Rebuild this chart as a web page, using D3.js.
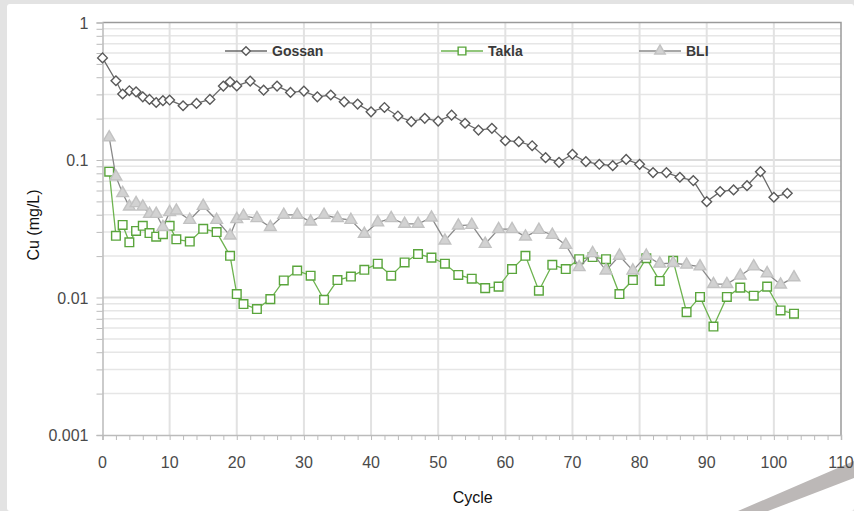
<!DOCTYPE html>
<html>
<head>
<meta charset="utf-8">
<script src="https://cdn.jsdelivr.net/npm/d3@7"></script>
<style>
  html, body { margin: 0; padding: 0; background: #e2e2e2; }
  svg { display: block; font-family: "Liberation Sans", Arial, sans-serif; }
</style>
</head>
<body>
<div id="canvas"></div>
<script>
"use strict";

/* Data */
let gossanCycle = [0, 2, 3, 4, 5, 6, 7, 8, 9, 10, 12, 14, 16, 18, 19, 20, 22, 24, 26, 28,
  30, 32, 34, 36, 38, 40, 42, 44, 46, 48, 50, 52, 54, 56, 58, 60, 62, 64, 66, 68,
  70, 72, 74, 76, 78, 80, 82, 84, 86, 88, 90, 92, 94, 96, 98, 100, 102];
let gossanCu = [0.553, 0.377, 0.302, 0.319, 0.313, 0.288, 0.276, 0.262, 0.27, 0.273, 0.248, 0.258, 0.276, 0.345, 0.37, 0.346, 0.375, 0.322, 0.345, 0.31,
  0.317, 0.288, 0.297, 0.265, 0.255, 0.224, 0.241, 0.209, 0.19, 0.201, 0.192, 0.212, 0.185, 0.165, 0.17, 0.138, 0.136, 0.127, 0.104, 0.0962,
  0.11, 0.0972, 0.0931, 0.0909, 0.101, 0.093, 0.081, 0.081, 0.0749, 0.0708, 0.0498, 0.0589, 0.0606, 0.0651, 0.0822, 0.0536, 0.0573];

let otherCycle = [1, 2, 3, 4, 5, 6, 7, 8, 9, 10, 11, 13, 15, 17, 19, 20, 21, 23, 25, 27,
  29, 31, 33, 35, 37, 39, 41, 43, 45, 47, 49, 51, 53, 55, 57, 59, 61, 63, 65, 67,
  69, 71, 73, 75, 77, 79, 81, 83, 85, 87, 89, 91, 93, 95, 97, 99, 101, 103];
let taklaCu = [0.0822, 0.0281, 0.0337, 0.0252, 0.0305, 0.0332, 0.0294, 0.0277, 0.0289, 0.0332, 0.0265, 0.0255, 0.0316, 0.0299, 0.0201, 0.0106, 0.00896, 0.00824, 0.00973, 0.0133,
  0.0157, 0.0144, 0.00962, 0.0134, 0.0142, 0.0159, 0.0176, 0.0144, 0.018, 0.0207, 0.0195, 0.0176, 0.0146, 0.0137, 0.0117, 0.012, 0.0161, 0.0201, 0.0112, 0.0173,
  0.0161, 0.019, 0.0197, 0.019, 0.0106, 0.0134, 0.0193, 0.0132, 0.0185, 0.00783, 0.0101, 0.00615, 0.0101, 0.0118, 0.0103, 0.012, 0.00805, 0.00762];
let bliCu = [0.146, 0.0757, 0.0573, 0.0458, 0.0485, 0.0458, 0.0405, 0.0405, 0.0325, 0.0417, 0.0428, 0.0366, 0.0463, 0.0366, 0.0282, 0.0371, 0.0392, 0.0377, 0.0325, 0.0399,
  0.0399, 0.0356, 0.0399, 0.0377, 0.0366, 0.029, 0.0351, 0.0377, 0.0343, 0.0343, 0.0381, 0.0259, 0.0333, 0.0337, 0.0245, 0.0314, 0.0314, 0.0277, 0.031, 0.0285,
  0.0241, 0.0166, 0.021, 0.0157, 0.0201, 0.0157, 0.0201, 0.0176, 0.0178, 0.0173, 0.0168, 0.0125, 0.0125, 0.0144, 0.0168, 0.015, 0.0124, 0.014];

let xTicks = [0, 10, 20, 30, 40, 50, 60, 70, 80, 90, 100, 110];
let yTicks = [0.001, 0.01, 0.1, 1];
let seriesNames = ["Gossan", "Takla", "BLI"];

/* Drawing configuration */
let svgWidth = 854;
let svgHeight = 511;
let plotLeft = 102.5;
let plotRight = 841;
let plotTop = 22.5;
let plotBottom = 435;

let svg = d3.select("#canvas")
  .append("svg")
  .attr("width", svgWidth)
  .attr("height", svgHeight);

/* Background: grey page, white slide panel, decorative bar */
svg.append("rect")
  .attr("width", svgWidth)
  .attr("height", svgHeight)
  .attr("fill", "#e3e3e3");

svg.append("rect")
  .attr("x", 7)
  .attr("y", 4)
  .attr("width", svgWidth - 7)
  .attr("height", svgHeight - 4)
  .attr("rx", 3)
  .attr("fill", "#ffffff");

svg.append("polygon")
  .attr("points", "738,511 854,461 854,478 768,511")
  .attr("fill", "#bcb8b7");

let xScale = d3.scaleLinear()
  .domain([0, 110])
  .range([plotLeft, plotRight]);

let yScale = d3.scaleLog()
  .domain([0.001, 1])
  .range([plotBottom, plotTop]);

/* Minor log values for horizontal grid */
let minorValues = [];
yTicks.slice(0, 3).forEach(function (d) {
  for (let k = 2; k <= 9; k = k + 1) {
    minorValues.push(d * k);
  }
});

/* Horizontal grid lines */
svg.append("g")
  .selectAll("line")
  .data(minorValues)
  .enter()
  .append("line")
  .attr("x1", plotLeft)
  .attr("x2", plotRight)
  .attr("y1", function (d) { return yScale(d); })
  .attr("y2", function (d) { return yScale(d); })
  .attr("stroke", "#e6e6e6")
  .attr("stroke-width", 1.5);

svg.append("g")
  .selectAll("line")
  .data([0.01, 0.1])
  .enter()
  .append("line")
  .attr("x1", plotLeft)
  .attr("x2", plotRight)
  .attr("y1", function (d) { return yScale(d); })
  .attr("y2", function (d) { return yScale(d); })
  .attr("stroke", "#dcdcdc")
  .attr("stroke-width", 2);

/* Vertical grid lines */
svg.append("g")
  .selectAll("line")
  .data(xTicks.slice(1, xTicks.length - 1))
  .enter()
  .append("line")
  .attr("x1", function (d) { return xScale(d); })
  .attr("x2", function (d) { return xScale(d); })
  .attr("y1", plotTop)
  .attr("y2", plotBottom)
  .attr("stroke", "#e2e2e2")
  .attr("stroke-width", 2);

/* Top and right border */
svg.append("path")
  .attr("d", "M" + plotLeft + "," + plotTop + "H" + plotRight + "V" + plotBottom)
  .attr("fill", "none")
  .attr("stroke", "#9a9a9a")
  .attr("stroke-width", 1.5);

/* X axis */
let xMinor = [];
for (let i = 0; i <= 110; i = i + 2) { xMinor.push(i); }

let xAxis = svg.append("g")
  .attr("transform", "translate(0," + plotBottom + ")")
  .call(d3.axisBottom(xScale).tickValues(xMinor).tickSize(5).tickFormat(""));
xAxis.select(".domain").attr("stroke", "#bbbbbb").attr("stroke-width", 1.5);
xAxis.selectAll(".tick line").attr("stroke", "#bbbbbb");

svg.append("g")
  .selectAll("text")
  .data(xTicks)
  .enter()
  .append("text")
  .attr("x", function (d) { return xScale(d); })
  .attr("y", plotBottom + 33)
  .attr("text-anchor", "middle")
  .attr("font-size", "16px")
  .attr("fill", "#4a4a4a")
  .text(function (d) { return String(d); });

/* Y axis */
let yAxis = svg.append("g")
  .attr("transform", "translate(" + plotLeft + ",0)")
  .call(d3.axisLeft(yScale).tickValues(minorValues.concat(yTicks)).tickSize(6).tickFormat(""));
yAxis.select(".domain").attr("stroke", "#bbbbbb").attr("stroke-width", 1.5);
yAxis.selectAll(".tick line").attr("stroke", "#bbbbbb");

svg.append("g")
  .selectAll("text")
  .data(yTicks)
  .enter()
  .append("text")
  .attr("x", plotLeft - 14)
  .attr("y", function (d) { return yScale(d) + 6; })
  .attr("text-anchor", "end")
  .attr("font-size", "16px")
  .attr("fill", "#4a4a4a")
  .text(function (d) { return String(d); });

/* Axis titles */
svg.append("text")
  .attr("x", (plotLeft + plotRight) / 2 + 1)
  .attr("y", 503)
  .attr("text-anchor", "middle")
  .attr("font-size", "16px")
  .attr("fill", "#111")
  .text("Cycle");

svg.append("text")
  .attr("transform", "translate(39,225) rotate(-90)")
  .attr("text-anchor", "middle")
  .attr("font-size", "16px")
  .attr("fill", "#111")
  .text("Cu (mg/L)");

/* Series */
let line = d3.line()
  .x(function (d) { return xScale(d.x); })
  .y(function (d) { return yScale(d.y); });

function toPoints(xs, ys) {
  let pts = [];
  for (let i = 0; i < xs.length; i = i + 1) {
    pts.push({ x: xs[i], y: ys[i] });
  }
  return pts;
}

let series = [
  { name: seriesNames[0], data: toPoints(gossanCycle, gossanCu), lineColor: "#6a6a6a",
    symbol: d3.symbolDiamond2, size: 60, fill: "#ffffff", stroke: "#5a5a5a" },
  { name: seriesNames[1], data: toPoints(otherCycle, taklaCu), lineColor: "#6db34f",
    symbol: d3.symbolSquare2, size: 95, fill: "#ffffff", stroke: "#5aa53c" },
  { name: seriesNames[2], data: toPoints(otherCycle, bliCu), lineColor: "#8a8a8a",
    symbol: d3.symbolTriangle, size: 60, fill: "#d2d2d2", stroke: "#c2c2c2" }
];

series.forEach(function (s) {
  svg.append("path")
    .datum(s.data)
    .attr("d", line)
    .attr("fill", "none")
    .attr("stroke", s.lineColor)
    .attr("stroke-width", 1.3);

  svg.append("g")
    .selectAll("path")
    .data(s.data)
    .enter()
    .append("path")
    .attr("transform", function (d) {
      return "translate(" + xScale(d.x) + "," + yScale(d.y) + ")";
    })
    .attr("d", d3.symbol().type(s.symbol).size(s.size))
    .attr("fill", s.fill)
    .attr("stroke", s.stroke)
    .attr("stroke-width", 1.4);
});

/* Legend */
let legendX = [225, 441, 639];
let legend = svg.append("g");
series.forEach(function (s, i) {
  let g = legend.append("g")
    .attr("transform", "translate(" + legendX[i] + ",51)");
  g.append("line")
    .attr("x1", 0)
    .attr("x2", 42)
    .attr("stroke", s.lineColor)
    .attr("stroke-width", 1.3);
  g.append("path")
    .attr("transform", "translate(21,0)")
    .attr("d", d3.symbol().type(s.symbol).size(s.size * 0.8))
    .attr("fill", s.fill)
    .attr("stroke", s.stroke)
    .attr("stroke-width", 1.4);
  g.append("text")
    .attr("x", 47)
    .attr("y", 5)
    .attr("font-size", "14px")
    .attr("font-weight", "bold")
    .attr("fill", "#3a3a3a")
    .text(s.name);
});
</script>
</body>
</html>
